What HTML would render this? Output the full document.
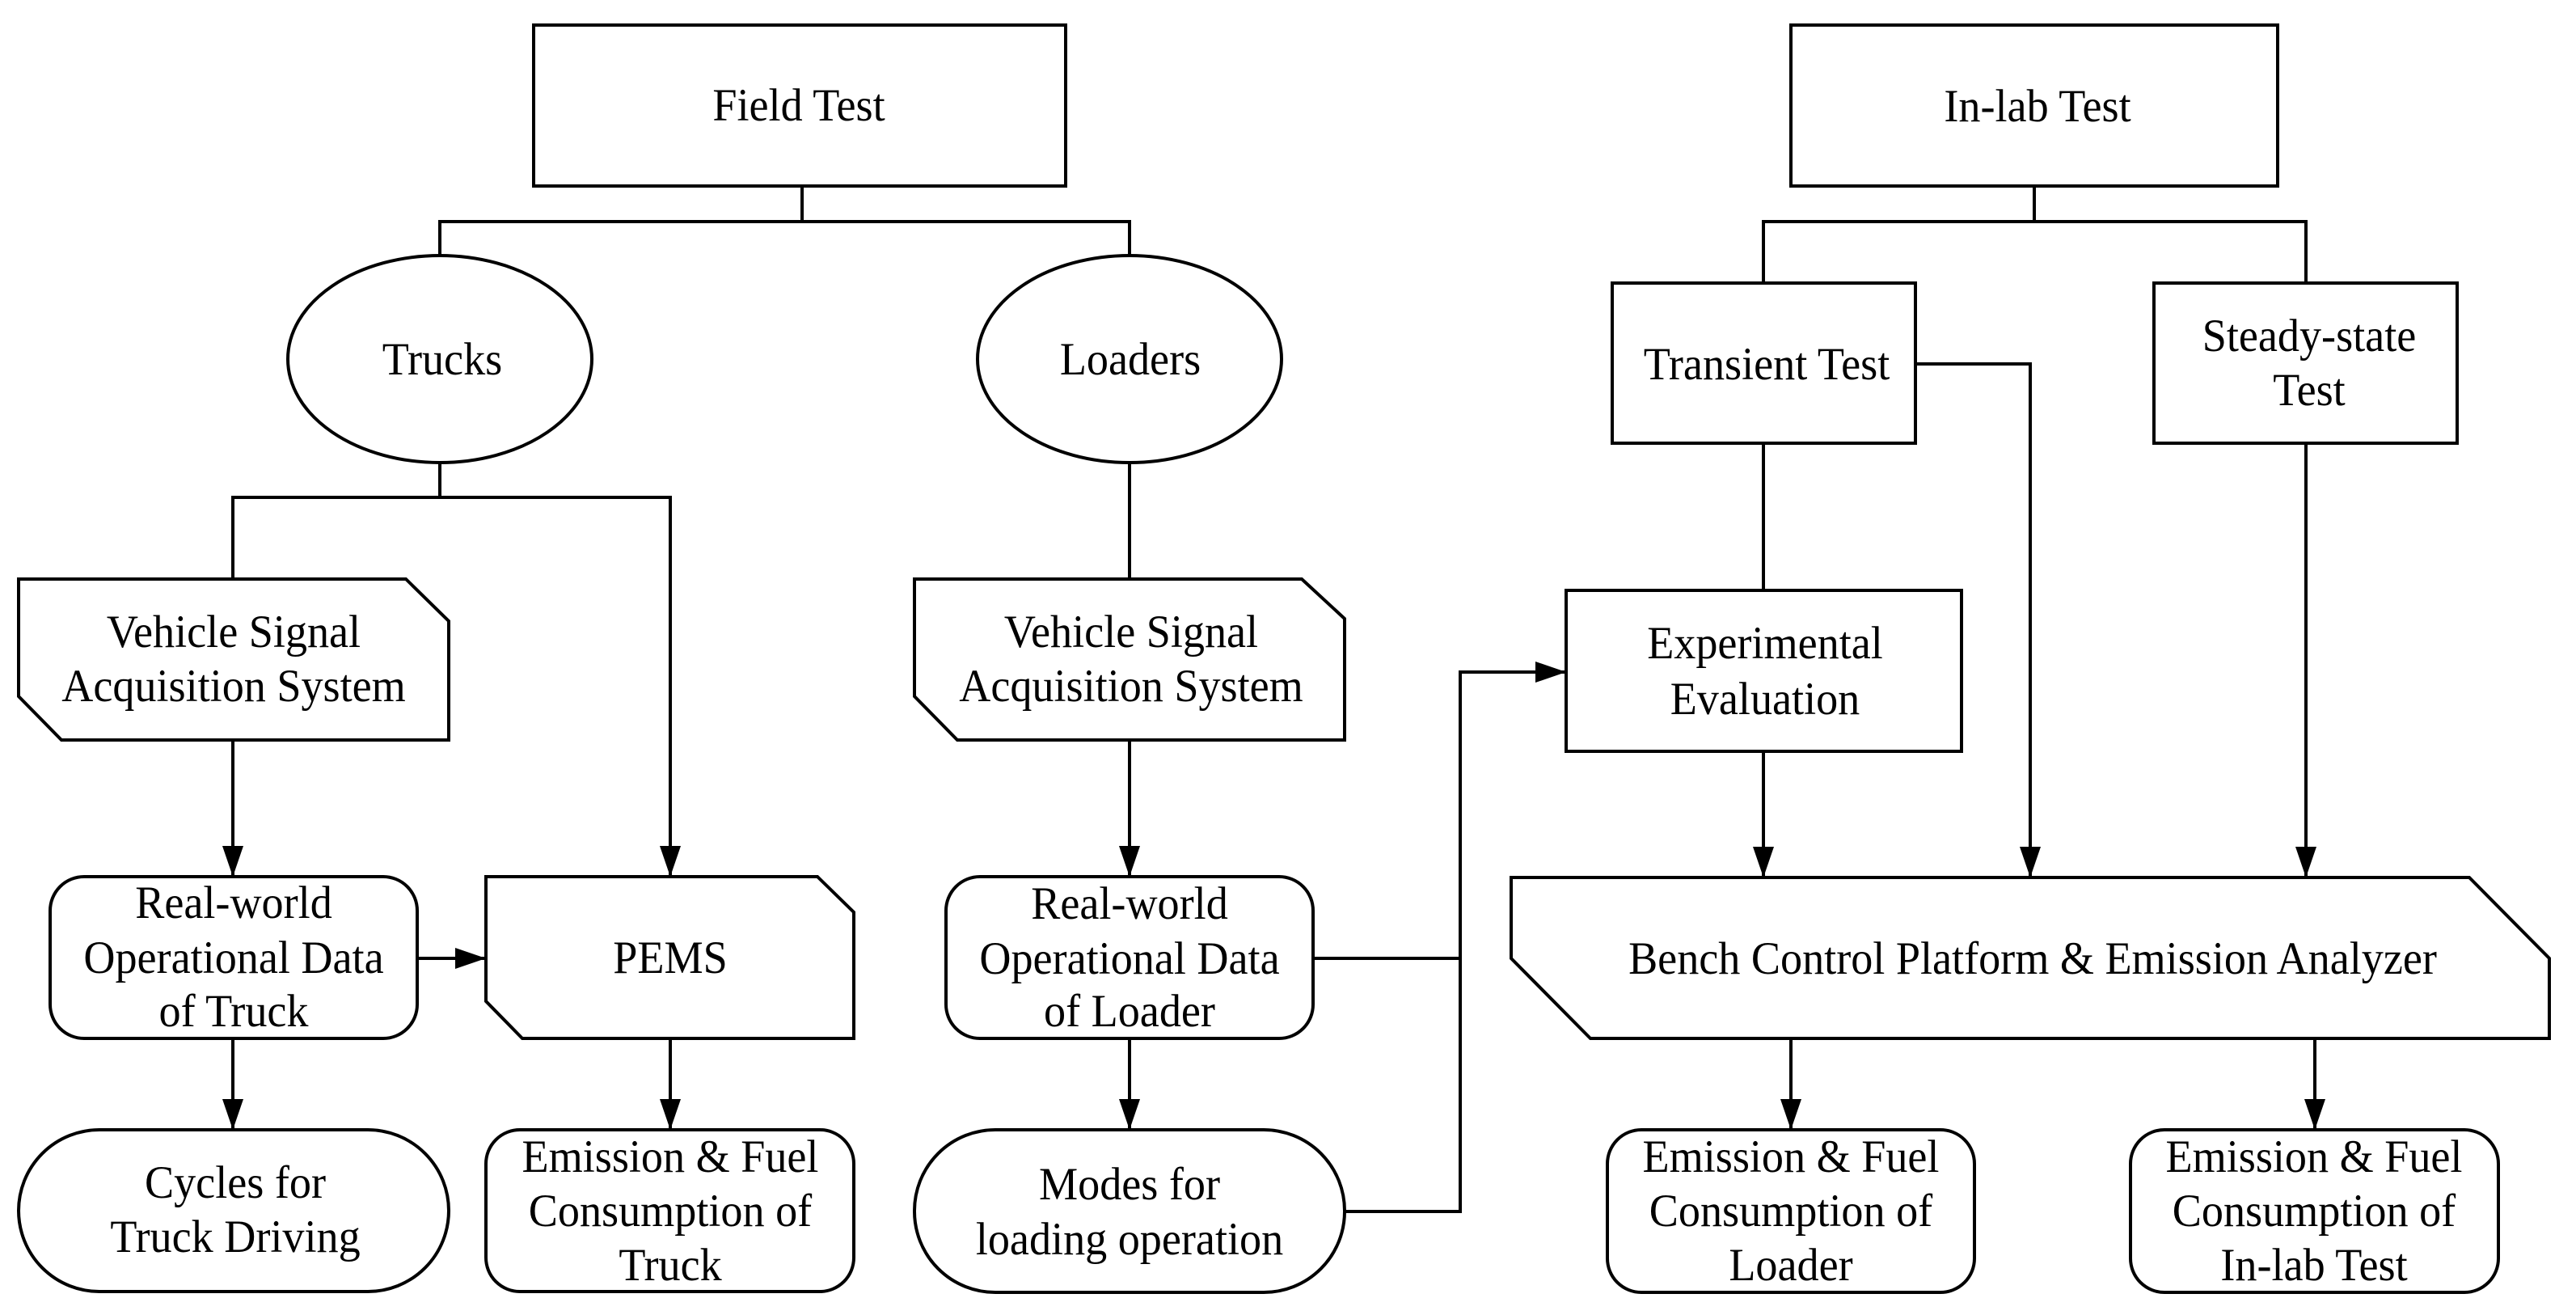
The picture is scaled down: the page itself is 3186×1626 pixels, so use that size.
<!DOCTYPE html>
<html><head><meta charset="utf-8"><style>
html,body{margin:0;padding:0;background:#fff;}
svg{display:block;}
text{font-family:"Liberation Serif",serif;font-size:57px;fill:#000;text-anchor:middle;}
</style></head><body>
<svg width="3186" height="1626" viewBox="0 0 3186 1626" xmlns="http://www.w3.org/2000/svg">
<defs>
<marker id="a" markerUnits="userSpaceOnUse" markerWidth="40" markerHeight="28" refX="38" refY="13" orient="auto">
<path d="M0,0 L38,13 L0,26 Z" fill="#000"/>
</marker>
</defs>
<g fill="none" stroke="#000" stroke-width="4" stroke-linejoin="miter">
<rect x="660" y="31" width="658" height="199"/>
<polyline points="992,230 992,274"/>
<polyline points="544,316 544,274 1397,274 1397,316"/>
<ellipse cx="544" cy="444" rx="188" ry="128"/>
<ellipse cx="1397" cy="444" rx="188" ry="128"/>
<polyline points="288,716 288,615 829,615 829,1084" marker-end="url(#a)"/>
<line x1="544" y1="572" x2="544" y2="615"/>
<polygon points="23,716 502,716 555,768 555,915 76,915 23,861"/>
<line x1="288" y1="915" x2="288" y2="1084" marker-end="url(#a)"/>
<rect x="62" y="1084" width="454" height="200" rx="42" ry="42"/>
<polygon points="601,1084 1011,1084 1056,1128 1056,1284 646,1284 601,1238"/>
<line x1="516" y1="1185" x2="601" y2="1185" marker-end="url(#a)"/>
<line x1="288" y1="1284" x2="288" y2="1397" marker-end="url(#a)"/>
<line x1="829" y1="1284" x2="829" y2="1397" marker-end="url(#a)"/>
<rect x="23" y="1397" width="532" height="200" rx="100" ry="100"/>
<rect x="601" y="1397" width="455" height="200" rx="42" ry="42"/>
<line x1="1397" y1="572" x2="1397" y2="716"/>
<polygon points="1131,716 1610,716 1663,765 1663,915 1184,915 1131,861"/>
<line x1="1397" y1="915" x2="1397" y2="1084" marker-end="url(#a)"/>
<rect x="1170" y="1084" width="454" height="200" rx="42" ry="42"/>
<line x1="1397" y1="1284" x2="1397" y2="1397" marker-end="url(#a)"/>
<rect x="1131" y="1397" width="532" height="201" rx="100" ry="100"/>
<polyline points="1624,1185 1806,1185"/>
<polyline points="1663,1498 1806,1498 1806,831 1937,831" marker-end="url(#a)"/>
<rect x="2215" y="31" width="602" height="199"/>
<polyline points="2516,230 2516,274"/>
<polyline points="2181,350 2181,274 2852,274 2852,350"/>
<rect x="1994" y="350" width="375" height="198"/>
<rect x="2664" y="350" width="375" height="198"/>
<line x1="2181" y1="548" x2="2181" y2="730"/>
<rect x="1937" y="730" width="489" height="199"/>
<line x1="2181" y1="929" x2="2181" y2="1085" marker-end="url(#a)"/>
<polyline points="2369,450 2511,450 2511,1085" marker-end="url(#a)"/>
<line x1="2852" y1="548" x2="2852" y2="1085" marker-end="url(#a)"/>
<polygon points="1869,1085 3054,1085 3153,1185 3153,1284 1967,1284 1869,1185"/>
<line x1="2215" y1="1284" x2="2215" y2="1397" marker-end="url(#a)"/>
<line x1="2863" y1="1284" x2="2863" y2="1397" marker-end="url(#a)"/>
<rect x="1988" y="1397" width="454" height="201" rx="42" ry="42"/>
<rect x="2635" y="1397" width="455" height="201" rx="42" ry="42"/>
</g>
<g>
<g transform="translate(988,0) scale(0.95,1)"><text x="0" y="149">Field Test</text></g>
<g transform="translate(2520,0) scale(0.95,1)"><text x="0" y="150">In-lab Test</text></g>
<g transform="translate(547,0) scale(0.95,1)"><text x="0" y="463">Trucks</text></g>
<g transform="translate(1398,0) scale(0.95,1)"><text x="0" y="463">Loaders</text></g>
<g transform="translate(289,0) scale(0.95,1)"><text x="0" y="800">Vehicle Signal</text><text x="0" y="867">Acquisition System</text></g>
<g transform="translate(1399,0) scale(0.95,1)"><text x="0" y="800">Vehicle Signal</text><text x="0" y="867">Acquisition System</text></g>
<g transform="translate(289,0) scale(0.95,1)"><text x="0" y="1135">Real-world</text><text x="0" y="1203">Operational Data</text><text x="0" y="1269">of Truck</text></g>
<g transform="translate(1397,0) scale(0.95,1)"><text x="0" y="1136">Real-world</text><text x="0" y="1204">Operational Data</text><text x="0" y="1269">of Loader</text></g>
<g transform="translate(829,0) scale(0.95,1)"><text x="0" y="1203">PEMS</text></g>
<g transform="translate(291,0) scale(0.95,1)"><text x="0" y="1481">Cycles for</text><text x="0" y="1548">Truck Driving</text></g>
<g transform="translate(1397,0) scale(0.95,1)"><text x="0" y="1483">Modes for</text><text x="0" y="1551">loading operation</text></g>
<g transform="translate(829,0) scale(0.95,1)"><text x="0" y="1449">Emission &amp; Fuel</text><text x="0" y="1516">Consumption of</text><text x="0" y="1583">Truck</text></g>
<g transform="translate(2215,0) scale(0.95,1)"><text x="0" y="1449">Emission &amp; Fuel</text><text x="0" y="1516">Consumption of</text><text x="0" y="1583">Loader</text></g>
<g transform="translate(2862,0) scale(0.95,1)"><text x="0" y="1449">Emission &amp; Fuel</text><text x="0" y="1516">Consumption of</text><text x="0" y="1583">In-lab Test</text></g>
<g transform="translate(2185,0) scale(0.95,1)"><text x="0" y="469">Transient Test</text></g>
<g transform="translate(2856,0) scale(0.95,1)"><text x="0" y="434">Steady-state</text><text x="0" y="501">Test</text></g>
<g transform="translate(2183,0) scale(0.95,1)"><text x="0" y="814">Experimental</text><text x="0" y="883">Evaluation</text></g>
<g transform="translate(2514,0) scale(0.95,1)"><text x="0" y="1204">Bench Control Platform &amp; Emission Analyzer</text></g>
</g>
</svg>
</body></html>
